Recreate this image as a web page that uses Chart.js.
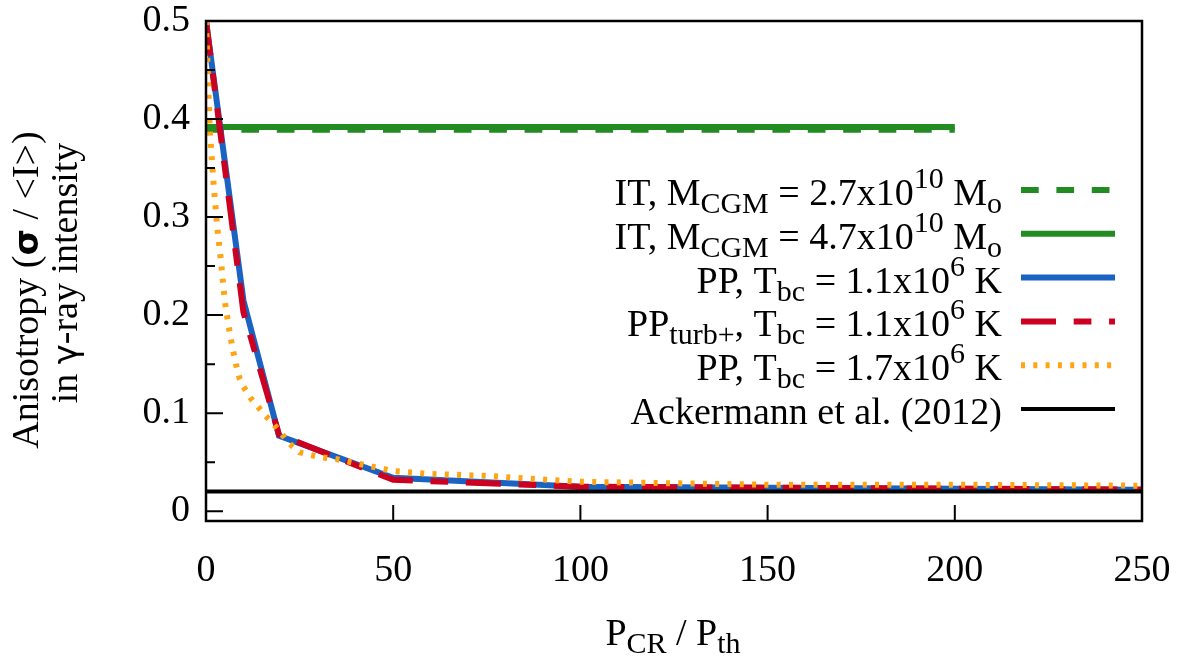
<!DOCTYPE html>
<html>
<head>
<meta charset="utf-8">
<script src="https://cdn.jsdelivr.net/npm/chart.js@4.4.0/dist/chart.umd.min.js"></script>
<style>
  html, body { margin: 0; padding: 0; background: #fff; }
</style>
</head>
<body>
<canvas id="chart" width="1185" height="662"></canvas>
<script>
        // Datos
        const xIT = [0, 200];
        const yITlow = [0.389, 0.389];    // M_CGM = 2.7e10
        const yIThigh = [0.392, 0.392];   // M_CGM = 4.7e10

        const xPP = [0, 10, 19.5, 50, 100, 150, 200, 250];
        const yPPcold = [0.5, 0.215, 0.077, 0.034, 0.025, 0.024, 0.023, 0.022];
        const yPPturb = [0.5, 0.203, 0.078, 0.032, 0.025, 0.024, 0.023, 0.022];

        const xPPhot = [0, 1, 2, 3, 4, 5, 6, 7, 8, 9, 10, 12, 14, 16, 18, 20, 22, 25, 30, 35, 40, 45, 50, 60, 75, 100, 150, 200, 250];
        const yPPhot = [0.5, 0.39, 0.335, 0.29, 0.255, 0.215, 0.19, 0.168, 0.15, 0.135, 0.127, 0.115, 0.106, 0.097, 0.089, 0.08, 0.07, 0.06, 0.0555, 0.053, 0.049, 0.045, 0.041, 0.038, 0.036, 0.03, 0.027, 0.027, 0.026];

        const xAck = [0, 250];
        const yAck = [0.02, 0.02];

        const xTicks = [0, 50, 100, 150, 200, 250];
        const yTicks = [0, 0.1, 0.2, 0.3, 0.4, 0.5];
        const yTickLabels = ['0', '0.1', '0.2', '0.3', '0.4', '0.5'];
        const yMinorTicks = [0.05, 0.15, 0.25, 0.35, 0.45];

        // Etiquetas con subíndices / superíndices
        const legendLabels = [
            [['IT, M', ''], ['CGM', 'sub'], [' = 2.7x10', ''], ['10', 'sup'], [' M', ''], ['o', 'sub']],
            [['IT, M', ''], ['CGM', 'sub'], [' = 4.7x10', ''], ['10', 'sup'], [' M', ''], ['o', 'sub']],
            [['PP, T', ''], ['bc', 'sub'], [' = 1.1x10', ''], ['6', 'sup'], [' K', '']],
            [['PP', ''], ['turb+', 'sub'], [', T', ''], ['bc', 'sub'], [' = 1.1x10', ''], ['6', 'sup'], [' K', '']],
            [['PP, T', ''], ['bc', 'sub'], [' = 1.7x10', ''], ['6', 'sup'], [' K', '']],
            [['Ackermann et al. (2012)', '']]
        ];
        const xTitle = [['P', ''], ['CR', 'sub'], [' / P', ''], ['th', 'sub']];
        const yTitle1 = [['Anisotropy (', ''], ['σ', 'symb'], [' / <I>)', '']];
        const yTitle2 = [['in ', ''], ['γ', 'sym'], ['-ray intensity', '']];

        const FONT = '"Liberation Serif", "Times New Roman", serif';
        const SIZE = 38;
        const SMALL = 30;

        const colors = ['#228b22', '#228b22', '#1a63c2', '#cc0020', '#ffa514', '#000000'];
        const widths = [6, 6, 6, 6, 6, 4];
        const dashes = [[17.7, 17.7], [], [], [35, 17.7, 17.7, 17.7], [4, 8.3], []];

        function pts(xs, ys) {
            return xs.map((x, i) => ({ x: x, y: ys[i] }));
        }

        function segFont(kind) {
            if (kind === 'sub' || kind === 'sup') return SMALL + 'px ' + FONT;
            if (kind === 'symb') return 'bold ' + (SIZE - 4) + 'px "DejaVu Sans", sans-serif';
            if (kind === 'sym') return (SIZE - 4) + 'px "DejaVu Sans", sans-serif';
            return SIZE + 'px ' + FONT;
        }

        function segDy(kind) {
            if (kind === 'sub') return 8;
            if (kind === 'sup') return -17;
            return 0;
        }

        function richWidth(ctx, segs) {
            let w = 0;
            segs.forEach(s => {
                ctx.font = segFont(s[1]);
                w += ctx.measureText(s[0]).width;
            });
            return w;
        }

        function drawRich(ctx, segs, x, y) {
            ctx.textAlign = 'left';
            ctx.textBaseline = 'alphabetic';
            segs.forEach(s => {
                ctx.font = segFont(s[1]);
                ctx.fillText(s[0], x, y + segDy(s[1]));
                x += ctx.measureText(s[0]).width;
            });
        }

        const framePlugin = {
            id: 'frame',
            afterDatasetsDraw(chart) {
                const ctx = chart.ctx;
                const area = chart.chartArea;
                const xs = chart.scales.x;
                const ys = chart.scales.y;
                ctx.save();
                ctx.strokeStyle = '#000';
                ctx.setLineDash([]);
                ctx.lineWidth = 2;
                ctx.beginPath();
                xTicks.forEach(v => {
                    const px = xs.getPixelForValue(v);
                    ctx.moveTo(px, area.bottom);
                    ctx.lineTo(px, area.bottom - 16);
                });
                yTicks.forEach(v => {
                    const py = ys.getPixelForValue(v);
                    ctx.moveTo(area.left, py);
                    ctx.lineTo(area.left + 17, py);
                });
                yMinorTicks.forEach(v => {
                    const py = ys.getPixelForValue(v);
                    ctx.moveTo(area.left, py);
                    ctx.lineTo(area.left + 9, py);
                });
                ctx.stroke();
                ctx.lineWidth = 2.5;
                ctx.strokeRect(area.left, area.top, area.right - area.left, area.bottom - area.top);
                ctx.restore();
            },
            afterDraw(chart) {
                const ctx = chart.ctx;
                ctx.save();
                ctx.fillStyle = '#000';

                // leyenda
                legendLabels.forEach((segs, i) => {
                    const cy = 190 + i * 43.8;
                    const w = richWidth(ctx, segs);
                    drawRich(ctx, segs, 1002 - w, cy + 15);
                    ctx.beginPath();
                    ctx.strokeStyle = colors[i];
                    ctx.lineWidth = widths[i];
                    ctx.lineCap = 'butt';
                    ctx.setLineDash(dashes[i]);
                    ctx.moveTo(1021, cy);
                    ctx.lineTo(1115, cy);
                    ctx.stroke();
                });
                ctx.setLineDash([]);

                // título eje x
                const wx = richWidth(ctx, xTitle);
                drawRich(ctx, xTitle, 673 - wx / 2, 645);

                // título eje y (dos líneas)
                ctx.save();
                ctx.translate(38, 290);
                ctx.rotate(-Math.PI / 2);
                drawRich(ctx, yTitle1, -richWidth(ctx, yTitle1) / 2, 0);
                ctx.restore();
                ctx.save();
                ctx.translate(77, 273);
                ctx.rotate(-Math.PI / 2);
                drawRich(ctx, yTitle2, -richWidth(ctx, yTitle2) / 2, 0);
                ctx.restore();

                ctx.restore();
            }
        };

        const series = [
            pts(xIT, yITlow),
            pts(xIT, yIThigh),
            pts(xPP, yPPcold),
            pts(xPP, yPPturb),
            pts(xPPhot, yPPhot),
            pts(xAck, yAck)
        ];

        const datasets = series.map((data, i) => ({
            data: data,
            borderColor: colors[i],
            borderWidth: widths[i],
            borderDash: dashes[i],
            borderCapStyle: 'butt',
            pointRadius: 0,
            tension: 0,
            fill: false,
            order: series.length - i
        }));

        const ctx = document.getElementById('chart').getContext('2d');
        new Chart(ctx, {
            type: 'line',
            data: { datasets: datasets },
            options: {
                responsive: false,
                animation: false,
                layout: { padding: { left: 0, top: 21, right: 43, bottom: 0 } },
                plugins: {
                    legend: { display: false },
                    tooltip: { enabled: false }
                },
                scales: {
                    x: {
                        type: 'linear',
                        min: 0,
                        max: 250,
                        grid: { display: false, drawTicks: false },
                        border: { display: false },
                        afterBuildTicks: scale => { scale.ticks = xTicks.map(v => ({ value: v })); },
                        afterFit: scale => {
                            scale.height = 141;
                            scale.paddingLeft = 0;
                            scale.paddingRight = 0;
                        },
                        ticks: {
                            padding: 27,
                            maxRotation: 0,
                            autoSkip: false,
                            color: '#000',
                            font: { family: FONT, size: SIZE },
                            callback: (v) => String(v)
                        }
                    },
                    y: {
                        type: 'linear',
                        min: -0.01,
                        max: 0.5,
                        grid: { display: false, drawTicks: false },
                        border: { display: false },
                        afterBuildTicks: scale => { scale.ticks = yTicks.map(v => ({ value: v })); },
                        afterFit: scale => {
                            scale.width = 206;
                            scale.paddingTop = 0;
                            scale.paddingBottom = 0;
                        },
                        ticks: {
                            padding: 16,
                            autoSkip: false,
                            color: '#000',
                            font: { family: FONT, size: SIZE },
                            callback: (v, i) => yTickLabels[i]
                        }
                    }
                }
            },
            plugins: [framePlugin]
        });
</script>
</body>
</html>
